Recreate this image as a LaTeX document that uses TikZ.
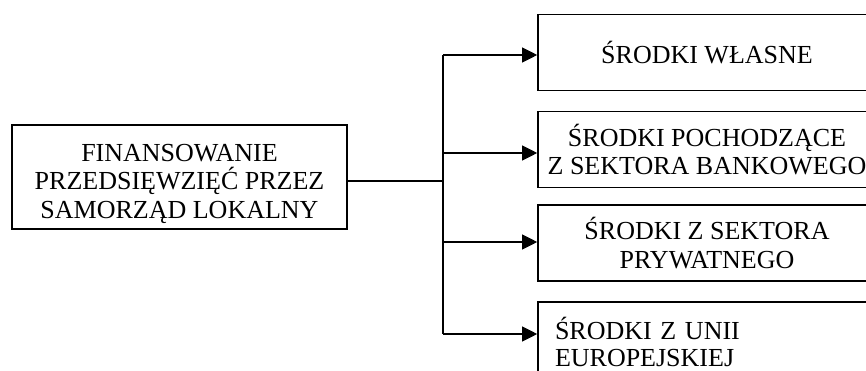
\documentclass[tikz,border=0pt]{standalone}
\usepackage{fontspec}
\setmainfont{Liberation Serif}
\usetikzlibrary{arrows.meta}
\begin{document}
\begin{tikzpicture}[x=1pt,y=-1pt,
  blok/.style={draw, line width=1.6pt, minimum width=338pt, minimum height=76pt,
    align=center, inner sep=0pt, font=\fontsize{26}{28.5}\selectfont},
  strz/.style={-{Triangle[length=15pt,width=15pt]}, line width=1.1pt}]
\useasboundingbox (0,0) rectangle (866,371);
\clip (0,0) rectangle (866,371);

% Blok główny
\node[blok, minimum width=335pt, minimum height=104pt] (fin) at (179.5,177)
  {\rule{0pt}{31pt}FINANSOWANIE\\PRZEDSIĘWZIĘĆ PRZEZ\\SAMORZĄD LOKALNY};

% Źródła środków
\node[blok] (s1) at (707,52.5) {ŚRODKI WŁASNE};
\node[blok] (s2) at (707,149.5) {ŚRODKI POCHODZĄCE\\Z SEKTORA BANKOWEGO};
\node[blok] (s3) at (707,243) {ŚRODKI Z SEKTORA\\PRYWATNEGO};
\node[blok, minimum height=80pt, align=left, inner xsep=17pt, text width=304pt,
  font=\fontsize{26}{26.5}\selectfont] (s4) at (707,342)
  {ŚRODKI Z UNII\\EUROPEJSKIEJ};

% Rozgałęzienie
\coordinate (rozg) at (443,181);
\draw[line width=1.1pt] ([yshift=-4pt]fin.east) -- (rozg);
\foreach \i/\y in {1/55,2/153,3/242,4/334} {
    \coordinate (b\i) at (443,\y);
    \draw[strz] (b\i) -- (s\i.west |- b\i);
}
\draw[line width=1.1pt] (b1) -- (b4);

\end{tikzpicture}
\end{document}
